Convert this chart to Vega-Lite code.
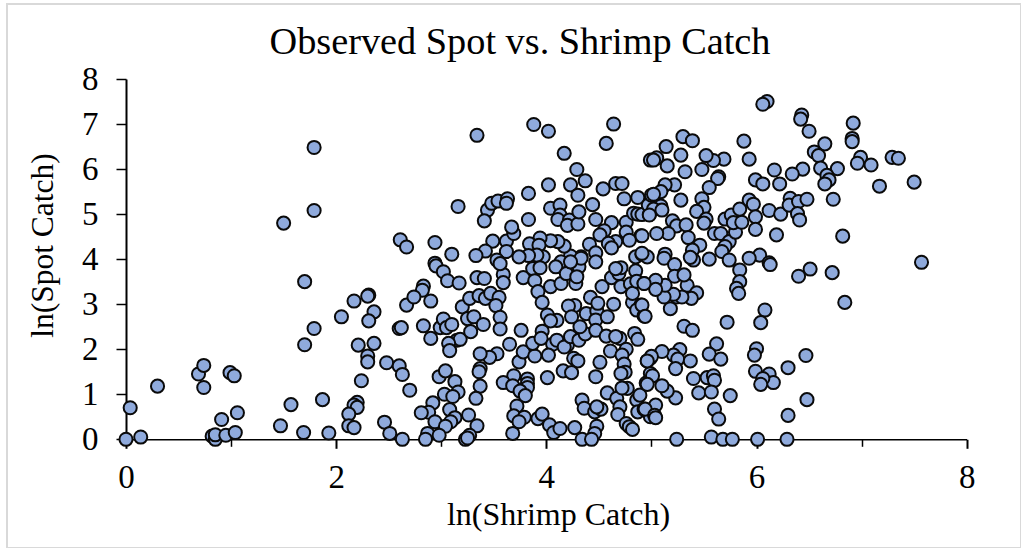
{"$schema":"https://vega.github.io/schema/vega-lite/v6.json","width":1014,"height":544,"autosize":{"type":"none"},"padding":{"left":7,"top":4,"right":0,"bottom":0},"background":"white","config":{"view":{"stroke":"#d9d9d9","strokeWidth":2}},"title":{"text":"Observed Spot vs. Shrimp Catch","font":"Liberation Serif","fontSize":38.3,"fontWeight":"normal","color":"#000000","anchor":"middle","frame":"group","baseline":"alphabetic","offset":0,"dx":6,"dy":88},"data":{"values":[{"x":0,"y":0},{"x":0.04,"y":0.7},{"x":0.14,"y":0.05},{"x":0.3,"y":1.18},{"x":0.69,"y":1.45},{"x":0.74,"y":1.64},{"x":0.74,"y":1.15},{"x":0.99,"y":1.48},{"x":1.03,"y":1.41},{"x":1.06,"y":0.59},{"x":0.91,"y":0.44},{"x":0.82,"y":0.07},{"x":0.85,"y":0},{"x":0.85,"y":0.1},{"x":0.95,"y":0.09},{"x":1.04,"y":0.15},{"x":1.47,"y":0.3},{"x":1.57,"y":0.77},{"x":1.69,"y":0.15},{"x":1.87,"y":0.88},{"x":1.93,"y":0.14},{"x":1.5,"y":4.8},{"x":1.79,"y":6.48},{"x":1.79,"y":5.08},{"x":1.7,"y":3.5},{"x":1.79,"y":2.46},{"x":1.7,"y":2.1},{"x":2.05,"y":2.72},{"x":2.17,"y":3.07},{"x":2.31,"y":3.2},{"x":2.3,"y":3.18},{"x":2.36,"y":2.83},{"x":2.31,"y":2.63},{"x":2.21,"y":2.09},{"x":2.36,"y":2.13},{"x":2.3,"y":1.85},{"x":2.3,"y":1.72},{"x":2.48,"y":1.7},{"x":2.24,"y":1.3},{"x":2.2,"y":0.82},{"x":2.17,"y":0.76},{"x":2.2,"y":0.71},{"x":2.12,"y":0.56},{"x":2.12,"y":0.3},{"x":2.17,"y":0.26},{"x":2.46,"y":0.38},{"x":2.51,"y":0.13},{"x":2.63,"y":0},{"x":2.61,"y":4.43},{"x":2.67,"y":4.27},{"x":2.6,"y":2.46},{"x":2.6,"y":1.63},{"x":2.63,"y":1.44},{"x":2.67,"y":2.98},{"x":3.34,"y":6.75},{"x":3.88,"y":6.99},{"x":4.02,"y":6.84},{"x":4.17,"y":6.35},{"x":4.29,"y":5.99},{"x":4.37,"y":5.74},{"x":4.23,"y":5.65},{"x":4.3,"y":5.42},{"x":4.02,"y":5.65},{"x":3.83,"y":5.46},{"x":3.16,"y":5.17},{"x":3.44,"y":5.09},{"x":3.41,"y":4.85},{"x":3.48,"y":5.24},{"x":3.54,"y":5.29},{"x":3.63,"y":5.34},{"x":3.62,"y":5.24},{"x":3.83,"y":4.88},{"x":4.04,"y":5.13},{"x":4.13,"y":5.2},{"x":4.13,"y":4.98},{"x":4.11,"y":4.88},{"x":4.22,"y":4.87},{"x":4.2,"y":4.75},{"x":4.3,"y":4.78},{"x":4.31,"y":5.05},{"x":4.44,"y":5.21},{"x":4.47,"y":4.88},{"x":4.54,"y":5.56},{"x":4.66,"y":5.68},{"x":4.72,"y":5.68},{"x":4.57,"y":6.57},{"x":4.64,"y":7},{"x":4.74,"y":5.34},{"x":4.87,"y":5.37},{"x":4.62,"y":4.81},{"x":4.76,"y":4.82},{"x":4.83,"y":5.02},{"x":4.87,"y":5},{"x":4.91,"y":4.99},{"x":4.98,"y":4.99},{"x":4.97,"y":5.2},{"x":5,"y":5.42},{"x":4.99,"y":6.2},{"x":4.55,"y":4.63},{"x":4.51,"y":4.54},{"x":4.76,"y":4.6},{"x":4.9,"y":4.52},{"x":4.79,"y":4.42},{"x":4.66,"y":4.39},{"x":4.59,"y":4.35},{"x":4.62,"y":4.25},{"x":4.41,"y":4.33},{"x":4.47,"y":4.14},{"x":4.33,"y":4.05},{"x":4.23,"y":4.07},{"x":4.17,"y":4.29},{"x":4.11,"y":4.39},{"x":4.04,"y":4.41},{"x":3.94,"y":4.47},{"x":3.84,"y":4.34},{"x":3.93,"y":4.31},{"x":3.97,"y":4.05},{"x":3.91,"y":4.09},{"x":3.83,"y":4.08},{"x":3.74,"y":4.05},{"x":3.62,"y":4.4},{"x":3.62,"y":4.17},{"x":3.49,"y":4.4},{"x":3.42,"y":4.18},{"x":3.33,"y":4.08},{"x":3.53,"y":3.98},{"x":3.69,"y":4.57},{"x":3.67,"y":4.71},{"x":2.94,"y":4.37},{"x":3.1,"y":4.11},{"x":2.94,"y":3.91},{"x":4.85,"y":4.05},{"x":4.91,"y":4.11},{"x":4.14,"y":3.94},{"x":2.7,"y":1.09},{"x":2.95,"y":3.85},{"x":3.02,"y":3.72},{"x":3.06,"y":3.52},{"x":3.17,"y":3.47},{"x":3.34,"y":3.59},{"x":3.41,"y":3.57},{"x":3.59,"y":3.66},{"x":3.59,"y":3.48},{"x":3.56,"y":3.9},{"x":3.78,"y":3.59},{"x":3.87,"y":3.79},{"x":3.94,"y":3.81},{"x":3.89,"y":3.52},{"x":4.04,"y":3.39},{"x":4.14,"y":3.46},{"x":4.28,"y":3.46},{"x":3.92,"y":3.28},{"x":3.96,"y":3.04},{"x":4.01,"y":2.76},{"x":4.1,"y":2.64},{"x":4.04,"y":2.63},{"x":4.09,"y":3.83},{"x":4.19,"y":3.68},{"x":4.31,"y":3.83},{"x":4.29,"y":3.61},{"x":4.33,"y":4.02},{"x":4.47,"y":3.94},{"x":4.23,"y":3.94},{"x":2.83,"y":3.4},{"x":2.82,"y":3.31},{"x":2.74,"y":3.16},{"x":2.9,"y":3.07},{"x":2.62,"y":2.48},{"x":2.83,"y":2.52},{"x":2.9,"y":2.24},{"x":2.99,"y":2.48},{"x":3.02,"y":2.67},{"x":3.05,"y":2.48},{"x":3.1,"y":2.55},{"x":3.15,"y":2.2},{"x":3.18,"y":2.22},{"x":3.07,"y":2.13},{"x":3.08,"y":1.97},{"x":3.2,"y":2.94},{"x":3.27,"y":3.13},{"x":3.36,"y":3.19},{"x":3.42,"y":3.13},{"x":3.47,"y":3.24},{"x":3.55,"y":3.15},{"x":3.52,"y":2.97},{"x":3.56,"y":2.71},{"x":3.56,"y":2.45},{"x":3.25,"y":2.68},{"x":3.31,"y":2.72},{"x":3.4,"y":2.55},{"x":3.28,"y":2.39},{"x":3.76,"y":2.42},{"x":3.65,"y":2.11},{"x":3.53,"y":1.9},{"x":3.46,"y":1.82},{"x":3.37,"y":1.9},{"x":3.74,"y":1.72},{"x":3.78,"y":1.94},{"x":3.89,"y":1.85},{"x":3.87,"y":2.13},{"x":3.96,"y":2.4},{"x":3.95,"y":2.24},{"x":4.06,"y":2.11},{"x":4.02,"y":1.87},{"x":4.1,"y":2.2},{"x":4.2,"y":2.09},{"x":4.17,"y":2.05},{"x":4.23,"y":2.28},{"x":4.31,"y":2.2},{"x":4.26,"y":1.8},{"x":4.3,"y":1.74},{"x":4.37,"y":2.34},{"x":4.32,"y":2.5},{"x":4.27,"y":2.97},{"x":4.21,"y":2.96},{"x":4.24,"y":2.72},{"x":4.38,"y":2.79},{"x":4.42,"y":3.15},{"x":4.48,"y":2.85},{"x":4.47,"y":2.65},{"x":4.47,"y":2.42},{"x":4.49,"y":3.02},{"x":4.53,"y":3.39},{"x":4.58,"y":2.72},{"x":4.64,"y":3},{"x":4.62,"y":3.59},{"x":4.71,"y":3.39},{"x":4.69,"y":3.68},{"x":4.71,"y":3.81},{"x":4.66,"y":3.79},{"x":4.8,"y":3.45},{"x":4.85,"y":3.74},{"x":4.82,"y":3.04},{"x":4.82,"y":3.24},{"x":4.9,"y":2.98},{"x":4.86,"y":2.87},{"x":4.93,"y":2.74},{"x":4.86,"y":3.51},{"x":4.93,"y":3.46},{"x":4.84,"y":2.35},{"x":4.87,"y":2.22},{"x":4.57,"y":2.29},{"x":4.7,"y":2.24},{"x":4.66,"y":2.28},{"x":4.61,"y":1.96},{"x":4.76,"y":2},{"x":4.72,"y":1.87},{"x":4.74,"y":1.67},{"x":4.75,"y":1.49},{"x":4.71,"y":1.46},{"x":4.51,"y":1.71},{"x":4.47,"y":1.39},{"x":4.16,"y":1.52},{"x":4.24,"y":1.48},{"x":4.01,"y":1.37},{"x":3.82,"y":1.34},{"x":3.82,"y":1.24},{"x":3.82,"y":1.15},{"x":3.69,"y":1.41},{"x":3.59,"y":1.26},{"x":3.68,"y":1.19},{"x":3.75,"y":1.07},{"x":3.8,"y":0.97},{"x":3.37,"y":1.57},{"x":3.36,"y":1.5},{"x":3.37,"y":1.18},{"x":3.33,"y":0.91},{"x":2.98,"y":1.39},{"x":3.04,"y":1.52},{"x":3.13,"y":1.28},{"x":3.16,"y":1.05},{"x":3.03,"y":1},{"x":3.11,"y":0.95},{"x":2.92,"y":0.81},{"x":2.88,"y":0.6},{"x":2.81,"y":0.59},{"x":3.08,"y":0.66},{"x":3.13,"y":0.48},{"x":3.26,"y":0.54},{"x":2.94,"y":0.39},{"x":3.09,"y":0.39},{"x":3.04,"y":0.29},{"x":3.34,"y":0.3},{"x":2.87,"y":0.13},{"x":2.85,"y":0},{"x":2.98,"y":0.09},{"x":3.23,"y":0},{"x":3.27,"y":0.09},{"x":3.25,"y":0.03},{"x":3.72,"y":0.74},{"x":3.69,"y":0.52},{"x":3.79,"y":0.49},{"x":3.74,"y":0.39},{"x":3.68,"y":0.13},{"x":3.92,"y":0.46},{"x":3.96,"y":0.56},{"x":4.03,"y":0.32},{"x":4.07,"y":0.15},{"x":4.13,"y":0.24},{"x":4.27,"y":0.26},{"x":4.34,"y":0.87},{"x":4.36,"y":0.69},{"x":4.46,"y":0.61},{"x":4.52,"y":0.67},{"x":4.48,"y":0.72},{"x":4.48,"y":0.29},{"x":4.46,"y":0.13},{"x":4.34,"y":0},{"x":4.43,"y":0},{"x":4.58,"y":1.03},{"x":4.67,"y":0.91},{"x":4.7,"y":0.72},{"x":4.68,"y":0.55},{"x":4.77,"y":1.13},{"x":4.72,"y":1.14},{"x":4.76,"y":0.35},{"x":4.79,"y":0.28},{"x":4.82,"y":0.22},{"x":4.86,"y":0.87},{"x":4.89,"y":0.98},{"x":4.95,"y":1.25},{"x":4.87,"y":0.61},{"x":4.93,"y":0.67},{"x":4.99,"y":0.5},{"x":4.99,"y":1.8},{"x":4.96,"y":1.74},{"x":4.99,"y":1.46},{"x":6.1,"y":7.5},{"x":6.06,"y":7.44},{"x":6.43,"y":7.2},{"x":6.42,"y":7.11},{"x":6.5,"y":6.84},{"x":6.92,"y":7.02},{"x":6.91,"y":6.68},{"x":6.91,"y":6.61},{"x":6.65,"y":6.56},{"x":6.55,"y":6.38},{"x":6.59,"y":6.3},{"x":6.99,"y":6.26},{"x":6.96,"y":6.13},{"x":7.09,"y":6.09},{"x":7.29,"y":6.26},{"x":7.35,"y":6.24},{"x":7.5,"y":5.71},{"x":7.17,"y":5.62},{"x":6.82,"y":4.51},{"x":6.77,"y":6.01},{"x":6.61,"y":6.02},{"x":6.67,"y":5.86},{"x":6.69,"y":5.76},{"x":6.65,"y":5.67},{"x":6.44,"y":6},{"x":6.34,"y":5.89},{"x":6.17,"y":5.98},{"x":6.22,"y":5.67},{"x":5.99,"y":5.76},{"x":6.06,"y":5.67},{"x":5.88,"y":6.62},{"x":5.93,"y":6.22},{"x":5.69,"y":6.22},{"x":5.59,"y":6.19},{"x":5.52,"y":6.3},{"x":5.48,"y":5.99},{"x":5.32,"y":5.94},{"x":5.28,"y":6.31},{"x":5.3,"y":6.72},{"x":5.39,"y":6.63},{"x":5.14,"y":6.5},{"x":5.05,"y":6.25},{"x":5.02,"y":6.2},{"x":5.15,"y":6.07},{"x":5.64,"y":5.83},{"x":5.63,"y":5.79},{"x":5.55,"y":5.59},{"x":5.22,"y":5.65},{"x":5.13,"y":5.65},{"x":5.09,"y":5.5},{"x":5.02,"y":5.44},{"x":5.28,"y":5.31},{"x":5.48,"y":5.34},{"x":5.5,"y":5.15},{"x":5.43,"y":5.06},{"x":5.52,"y":4.89},{"x":5.5,"y":4.8},{"x":5.2,"y":4.85},{"x":5.24,"y":4.74},{"x":5.33,"y":4.76},{"x":5.35,"y":4.48},{"x":5.16,"y":4.57},{"x":5.05,"y":4.57},{"x":5.09,"y":5.18},{"x":5.02,"y":5.11},{"x":4.98,"y":4.98},{"x":5.1,"y":5.09},{"x":4.91,"y":4.52},{"x":5.6,"y":4.57},{"x":5.66,"y":4.57},{"x":5.74,"y":4.39},{"x":5.7,"y":4.28},{"x":5.67,"y":4.17},{"x":5.46,"y":4.31},{"x":5.39,"y":4.2},{"x":5.8,"y":4.6},{"x":5.7,"y":4.89},{"x":5.76,"y":4.98},{"x":5.78,"y":4.81},{"x":5.86,"y":4.82},{"x":5.84,"y":5.11},{"x":5.93,"y":5.31},{"x":5.97,"y":5.22},{"x":5.99,"y":4.94},{"x":5.99,"y":4.66},{"x":6.12,"y":5.08},{"x":6.23,"y":5},{"x":6.32,"y":5.35},{"x":6.31,"y":5.2},{"x":6.4,"y":5.28},{"x":6.48,"y":5.33},{"x":6.39,"y":5.01},{"x":6.41,"y":4.87},{"x":6.73,"y":5.33},{"x":6.19,"y":4.54},{"x":6.03,"y":4.09},{"x":5.93,"y":4.02},{"x":6.12,"y":3.92},{"x":5.55,"y":4},{"x":5.74,"y":3.98},{"x":5.4,"y":3.98},{"x":5.37,"y":4.04},{"x":5.13,"y":4.11},{"x":5.12,"y":4.02},{"x":4.96,"y":4.05},{"x":4.91,"y":4.13},{"x":7.57,"y":3.93},{"x":6.51,"y":3.78},{"x":6.4,"y":3.62},{"x":6.72,"y":3.7},{"x":6.84,"y":3.04},{"x":6.08,"y":2.87},{"x":6.04,"y":2.59},{"x":5.72,"y":2.6},{"x":5.84,"y":3.76},{"x":5.84,"y":3.5},{"x":5.81,"y":3.35},{"x":5.83,"y":3.24},{"x":6.13,"y":3.88},{"x":5.22,"y":3.88},{"x":5.22,"y":3.62},{"x":5.34,"y":3.42},{"x":5.31,"y":3.65},{"x":5.43,"y":3.25},{"x":5.38,"y":3.13},{"x":5.24,"y":3.16},{"x":5.29,"y":3.16},{"x":5.21,"y":3.22},{"x":5.12,"y":3.16},{"x":5.18,"y":2.9},{"x":5.13,"y":3.42},{"x":5.04,"y":3.53},{"x":5.04,"y":3.33},{"x":4.93,"y":3.46},{"x":4.91,"y":2.98},{"x":4.94,"y":2.73},{"x":5.31,"y":2.51},{"x":5.39,"y":2.42},{"x":5.62,"y":2.12},{"x":5.55,"y":1.89},{"x":5.66,"y":1.78},{"x":5.27,"y":1.99},{"x":5.21,"y":1.87},{"x":5.25,"y":1.78},{"x":5.37,"y":1.74},{"x":5.23,"y":1.57},{"x":5.1,"y":1.95},{"x":5,"y":1.84},{"x":4.96,"y":1.74},{"x":6,"y":2.01},{"x":5.98,"y":1.87},{"x":5.99,"y":1.51},{"x":6.12,"y":1.45},{"x":6.16,"y":1.26},{"x":6.06,"y":1.35},{"x":6.04,"y":1.22},{"x":6.3,"y":1.59},{"x":6.47,"y":1.86},{"x":6.48,"y":0.88},{"x":6.3,"y":0.53},{"x":5.4,"y":1.35},{"x":5.53,"y":1.37},{"x":5.59,"y":1.41},{"x":5.6,"y":1.31},{"x":5.45,"y":1.03},{"x":5.57,"y":1.05},{"x":5.75,"y":0.97},{"x":5.6,"y":0.67},{"x":5.64,"y":0.45},{"x":5.23,"y":0.92},{"x":5.15,"y":1.07},{"x":5.1,"y":1.19},{"x":5.01,"y":1.41},{"x":4.96,"y":1.22},{"x":5.04,"y":0.76},{"x":4.94,"y":0.67},{"x":5.03,"y":0.53},{"x":5.04,"y":0.48},{"x":5.24,"y":0},{"x":5.57,"y":0.05},{"x":5.68,"y":0},{"x":5.77,"y":0},{"x":6.01,"y":0},{"x":6.29,"y":0}]},"mark":{"type":"point","filled":false,"fill":"#8faadc","fillOpacity":1,"stroke":"#0a0a0a","strokeWidth":2,"opacity":1,"size":172,"clip":false},"encoding":{"x":{"field":"x","type":"quantitative","scale":{"domain":[0,8],"range":[119,959.7],"nice":false,"zero":false},"axis":{"orient":"bottom","offset":-108.7,"title":"ln(Shrimp Catch)","titleFont":"Liberation Serif","titleFontSize":32,"titleFontWeight":"normal","titleColor":"#000000","titleX":551,"titleY":85,"titleBaseline":"alphabetic","titleAlign":"center","values":[0,0.5,1,1.5,2,2.5,3,3.5,4,4.5,5,5.5,6,6.5,7,7.5,8],"format":"d","labelExpr":"datum.value%2==0?datum.label:''","labelFont":"Liberation Serif","labelFontSize":33,"labelColor":"#000000","labelPadding":39,"labelBaseline":"alphabetic","labelFlush":false,"labelOverlap":false,"tickColor":"#000000","tickWidth":{"expr":"datum.value%2==0?2:1.5"},"tickSize":{"expr":"datum.value%2==0?9:7"},"domainColor":"#000000","domainWidth":1.5,"grid":false}},"y":{"field":"y","type":"quantitative","scale":{"domain":[0,8],"range":[435.3,75],"nice":false,"zero":false},"axis":{"orient":"left","offset":-119,"title":"ln(Spot Catch)","titleFont":"Liberation Serif","titleFontSize":31.5,"titleFontWeight":"normal","titleColor":"#000000","titleX":-74,"titleY":241,"titleBaseline":"alphabetic","titleAlign":"center","titleAngle":-90,"values":[0,1,2,3,4,5,6,7,8],"format":"d","labelFont":"Liberation Serif","labelFontSize":33,"labelColor":"#000000","labelPadding":18,"labelOverlap":false,"labelFlush":false,"tickColor":"#000000","tickWidth":1.5,"tickSize":10,"domainColor":"#000000","domainWidth":2,"grid":false}}}}
